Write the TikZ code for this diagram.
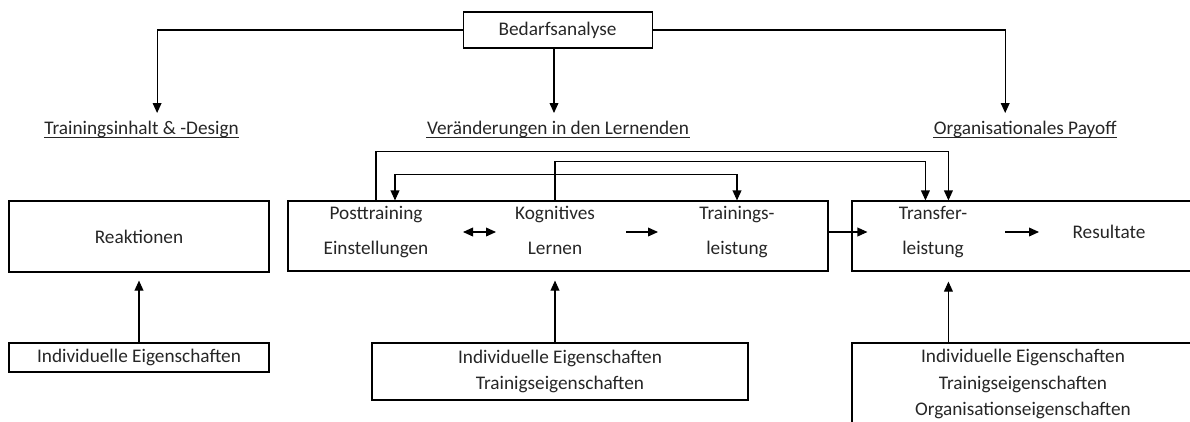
\documentclass[tikz,border=0pt]{standalone}
\usepackage{fontspec}
\setmainfont{Carlito}
\usetikzlibrary{arrows.meta, calc}

\begin{document}
\begin{tikzpicture}[>={Triangle[length=2.5mm, width=2.2mm]}, line width=0.8pt,
  every node/.style={font=\fontsize{13.7}{16}\selectfont, text=black!85},
  box/.style={draw, inner sep=0pt, align=center},
  pair/.style={inner sep=0pt, align=center, font=\fontsize{13.7}{24.9}\selectfont},
  list/.style={box, font=\fontsize{13.7}{18.9}\selectfont},
  head/.style={inner sep=0pt, anchor=base},
  uline/.style={line width=0.7pt, black!85}]
  \useasboundingbox (0,0) rectangle (29.75,-10.525);
  \clip (0,0) rectangle (29.75,-10.525);

  \node[box, minimum width=4.725cm, minimum height=0.9cm] (bedarf) at (13.94,-0.75) {Bedarfsanalyse};
  \node[head] (inhalt) at (3.54,-3.35) {Trainingsinhalt \& -Design};
  \node[head] (lernende) at (13.95,-3.35) {Veränderungen in den Lernenden};
  \node[head] (payoff) at (25.63,-3.35) {Organisationales Payoff};
  \foreach \h in {inhalt, lernende, payoff}
    \draw[uline] ($(\h.base west)+(0,-0.075)$) -- ($(\h.base east)+(0,-0.075)$);

  \node[box, minimum width=6.5cm, minimum height=1.775cm] (reakt) at (3.475,-5.9125) {Reaktionen};
  \node[box, minimum width=13.5cm, minimum height=1.75cm] (mid) at (13.95,-5.9) {};
  \node[box, minimum width=8.55cm, minimum height=1.75cm] (right) at (25.575,-5.9) {};

  \node[pair] (post) at (9.4,-5.8) {Posttraining\\Einstellungen};
  \node[pair] (kog) at (13.875,-5.8) {Kognitives\\Lernen\vphantom{g}};
  \node[pair] (train) at (18.425,-5.8) {Trainings-\\leistung};
  \node[pair] (trans) at (23.325,-5.8) {Transfer-\\leistung};
  \node[inner sep=0pt] (res) at (27.725,-5.8) {Resultate};

  \node[list, minimum width=6.5cm, minimum height=0.725cm] (indivA) at (3.475,-8.9375) {Individuelle Eigenschaften};
  \node[list, minimum width=9.4cm, minimum height=1.425cm] (indivB) at (14.0,-9.2875) {Individuelle Eigenschaften\\Trainigseigenschaften};
  \node[list, minimum width=8.55cm, minimum height=2.05cm] (indivC) at (25.575,-9.6) {Individuelle Eigenschaften\\Trainigseigenschaften\\Organisationseigenschaften};

  % Bedarfsanalyse verzweigt
  \coordinate (toLern) at ($(lernende.base)+(-0.1,0.525)$);
  \draw[->] (bedarf.west) -| ($(inhalt.base)+(0.3875,0.525)$);
  \draw[->] (bedarf.south -| toLern) -- (toLern);
  \draw[->] (bedarf.east) -| ($(payoff.base)+(-0.5,0.525)$);

  % Rueckfuehrungen ueber den Boxen
  \draw[->] (mid.north -| post) -- ++(0,1.225) -| ($(right.north west)+(2.425,0)$);
  \draw[->] (mid.north -| kog) -- ++(0,0.975) -| ($(right.north west)+(1.85,0)$);
  \draw[<->] ($(mid.north -| post)+(0.475,0)$) -- ++(0,0.65) -| (mid.north -| train);

  % innerhalb der Boxen
  \draw[<->] ($(post)+(2.175,0)$) -- ($(kog)+(-1.475,0)$);
  \draw[->] ($(kog)+(1.775,0)$) -- ($(train)+(-1.975,0)$);
  \draw[->] ($(trans |- res)+(1.8,0)$) -- ($(res)+(-1.75,0)$);
  \draw[->] (mid.east |- res) -- ($(right.west |- res)+(0.4,0)$);

  % Eigenschaften
  \draw[->, shorten >=0.2cm] (indivA) -- (reakt);
  \draw[->, shorten >=0.225cm] (indivB.north -| kog) -- (mid.south -| kog);
  \draw[->, shorten >=0.25cm] ($(indivC.north west)+(2.425,0)$) -- ($(right.south west)+(2.425,0)$);
\end{tikzpicture}
\end{document}
